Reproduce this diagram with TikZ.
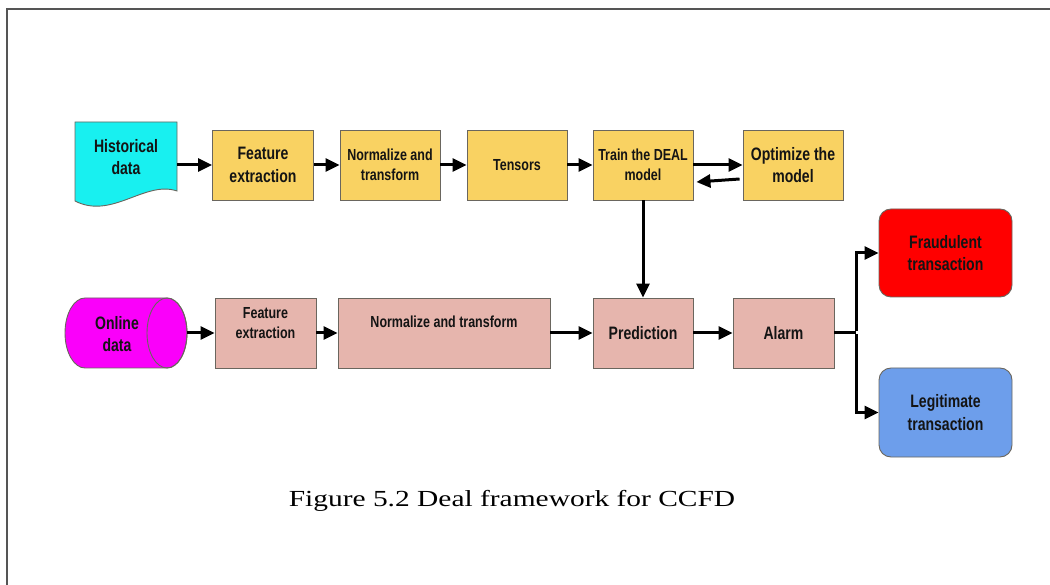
\documentclass[tikz,border=0pt]{standalone}
\usepackage{fontspec}
\newfontfamily\boxfont[FakeStretch=0.78]{Liberation Sans}
\newfontfamily\capfont[FakeStretch=1.28]{Liberation Serif}
\usetikzlibrary{arrows.meta}
\definecolor{ybox}{HTML}{F9D262}
\definecolor{pbox}{HTML}{E6B5AD}
\definecolor{cyanfill}{HTML}{18F0F0}
\definecolor{magfill}{HTML}{FA00FA}
\definecolor{redfill}{HTML}{FF0000}
\definecolor{bluefill}{HTML}{6D9EEB}
\definecolor{edge}{HTML}{6A665E}
\definecolor{ink}{HTML}{141414}
\definecolor{frame}{HTML}{555555}
\begin{document}
\begin{tikzpicture}[x=1pt,y=-1pt,
  txt16/.style={align=center, text=ink, inner sep=0pt,
    font={\boxfont\bfseries\fontsize{16}{20}\selectfont}},
  txt18/.style={align=center, text=ink, inner sep=0pt,
    font={\boxfont\bfseries\fontsize{18}{22.5}\selectfont}},
  boxbase/.style={draw=edge, line width=0.9pt, minimum height=70pt, minimum width=100pt},
  ybx/.style={boxbase, fill=ybox},
  pbx/.style={boxbase, fill=pbox},
  outbox/.style={draw=edge, line width=0.9pt, rounded corners=12pt,
    minimum width=133pt, minimum height=88pt},
  arr/.style={line width=3pt, -{Triangle[length=14pt,width=13pt]}},
  link/.style={line width=3pt},
]
\useasboundingbox (0,0) rectangle (1050,585);

% page frame
\draw[frame, line width=2pt] (7,586) -- (7,9) -- (1051,9);

% historical data: document shape
\draw[draw=edge, line width=0.9pt, fill=cyanfill]
  (75,122) -- (177,122) -- (177,191)
  .. controls (145,180) and (112,220) .. (75,201) -- cycle;
\node[txt18, minimum width=102pt, minimum height=80pt] (hist) at (126,157) {Historical\\data};

% online data: horizontal cylinder
\draw[draw=edge, line width=0.9pt, fill=magfill]
  (85,298) -- (167,298) arc[start angle=-90, end angle=90, x radius=20, y radius=35]
  -- (85,368) arc[start angle=90, end angle=270, x radius=20, y radius=35] -- cycle;
\draw[draw=edge, line width=0.9pt] (167,333) ellipse [x radius=20, y radius=35];
\node[minimum width=122pt, minimum height=70pt, inner sep=0pt] (online) at (126,333)
  {};
\node[txt18] (onlinetxt) at (117,334) {Online\\data};

% training pipeline
\node[ybx, txt18, minimum width=101pt, minimum height=70pt] (fe1) at (263,165) {Feature\\extraction};
\node[ybx, txt16, minimum width=100pt, minimum height=70pt] (norm1) at (390,165) {Normalize and\\transform};
\node[ybx, txt16, minimum width=100pt, minimum height=70pt] (tens) at (517,165) {Tensors};
\node[ybx, txt16, minimum width=100pt, minimum height=70pt] (train) at (643,165) {Train the DEAL\\model};
\node[ybx, txt18, minimum width=100pt, minimum height=70pt] (opt) at (793,165) {Optimize the\\model};

% online pipeline
\node[pbx, minimum width=101pt, minimum height=70pt] (fe2) at (265.5,333) {};
\node[txt16] (fe2txt) at (265.5,323) {Feature\\extraction};
\node[pbx, minimum width=212pt, minimum height=70pt] (norm2) at (444,333) {};
\node[txt16] (norm2txt) at (444,322) {Normalize and transform};
\node[pbx, txt18, minimum width=100pt, minimum height=70pt] (pred) at (643,333) {Prediction};
\node[pbx, txt18, minimum width=101pt, minimum height=70pt] (alarm) at (783.5,333) {Alarm};

% outcomes
\node[outbox, fill=redfill, txt18, minimum width=133pt, minimum height=88pt] (fraud) at (945.5,253) {Fraudulent\\transaction};
\node[outbox, fill=bluefill, txt18, minimum width=133pt, minimum height=89pt] (legit) at (945.5,412.5) {Legitimate\\transaction};

% connectors
\draw[arr] (hist.east |- fe1.west) -- (fe1.west);
\draw[arr] (fe1) -- (norm1);
\draw[arr] (norm1) -- (tens);
\draw[arr] (tens) -- (train);
\draw[arr] (train) -- (opt);
\draw[arr] ([xshift=-3pt,yshift=-14pt]opt.west) -- ([xshift=3pt,yshift=-17pt]train.east);
\draw[arr] (train) -- (pred);

\draw[arr] (online.east) -- (fe2.west);
\draw[arr] (fe2) -- (norm2);
\draw[arr] (norm2) -- (pred);
\draw[arr] (pred) -- (alarm);
\coordinate (split) at (856,333);
\draw[link] (alarm.east) -- (split);
\draw[arr] ([yshift=1.5pt]split) |- (fraud.west);
\draw[arr] ([yshift=-1.5pt]split) |- (legit.west);

% caption
\node[anchor=base, inner sep=0pt, font={\capfont\fontsize{23}{28}\selectfont}] (caption) at (512,506)
  {Figure 5.2 Deal framework for CCFD};
\end{tikzpicture}
\end{document}
